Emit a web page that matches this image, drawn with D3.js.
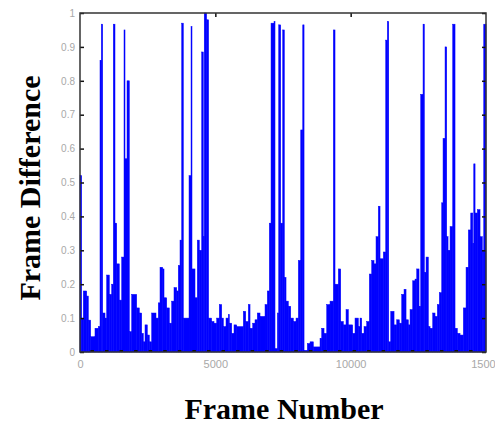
<!DOCTYPE html>
<html>
<head>
<meta charset="utf-8">
<script src="https://cdn.jsdelivr.net/npm/d3@7"></script>
<style>
  body { margin: 0; background: #fff; }
  svg { display: block; }
</style>
</head>
<body>
<script>
// step profile: frame where each step starts, and its height
const stepStart = [0, 63, 122, 248, 307, 395, 554, 676, 739, 788, 838, 924, 986, 1083, 1171, 1231, 1293, 1356, 1452, 1541,
  1626, 1663, 1737, 1822, 1910, 2095, 2191, 2280, 2339, 2402, 2487, 2561, 2649, 2808, 2893, 2956, 3056, 3104, 3204, 3300,
  3388, 3473, 3573, 3632, 3695, 3758, 3817, 4028, 4102, 4138, 4249, 4334, 4408, 4497, 4556, 4590, 4678, 4752, 4863, 4951,
  5051, 5147, 5236, 5296, 5395, 5480, 5517, 5606, 5690, 5791, 6034, 6123, 6219, 6282, 6382, 6466, 6551, 6651, 6836, 6921,
  6995, 7058, 7169, 7205, 7292, 7342, 7416, 7490, 7549, 7612, 7697, 7786, 7882, 7982, 8067, 8156, 8230, 8278, 8399, 8499,
  8621, 8868, 8931, 9016, 9116, 9238, 9360, 9422, 9544, 9633, 9729, 9829, 9914, 10076, 10161, 10283, 10346, 10409, 10494, 10594,
  10690, 10778, 10863, 10937, 11022, 11085, 11207, 11296, 11355, 11407, 11481, 11603, 11702, 11798, 11887, 11972, 12046, 12131, 12194, 12293,
  12378, 12441, 12526, 12589, 12674, 12722, 12785, 12870, 12933, 13032, 13117, 13202, 13276, 13365, 13413, 13487, 13549, 13598, 13672, 13771,
  13856, 13941, 14041, 14163, 14263, 14348, 14437, 14511, 14548, 14596, 14681, 14780, 14865, 14917];
const stepValue = [0.52, 0.10, 0.18, 0.165, 0.094, 0.045, 0.07, 0.075, 0.86, 0.967, 0.115, 0.10, 0.227, 0.17, 0.20, 0.967, 0.38, 0.26, 0.153, 0.28,
  0.95, 0.57, 0.80, 0.06, 0.17, 0.13, 0.115, 0.055, 0.03, 0.08, 0.05, 0.03, 0.115, 0.10, 0.145, 0.25, 0.245, 0.16, 0.13, 0.085,
  0.15, 0.19, 0.18, 0.255, 0.33, 0.97, 0.10, 0.52, 0.96, 0.245, 0.16, 0.33, 0.30, 0.885, 0.34, 1.0, 0.98, 0.10, 0.09, 0.085,
  0.10, 0.14, 0.10, 0.075, 0.10, 0.11, 0.085, 0.055, 0.08, 0.075, 0.12, 0.09, 0.14, 0.07, 0.085, 0.095, 0.115, 0.105, 0.14, 0.18,
  0.38, 0.97, 0.975, 0.01, 0.115, 0.965, 0.38, 0.95, 0.22, 0.15, 0.135, 0.10, 0.09, 0.10, 0.27, 0.655, 0.965, 0.005, 0.025, 0.03,
  0.015, 0.04, 0.07, 0.055, 0.14, 0.15, 0.95, 0.20, 0.245, 0.09, 0.08, 0.125, 0.08, 0.055, 0.10, 0.075, 0.10, 0.055, 0.075, 0.09,
  0.23, 0.27, 0.26, 0.34, 0.43, 0.275, 0.295, 0.92, 0.975, 0.03, 0.12, 0.08, 0.095, 0.085, 0.17, 0.185, 0.095, 0.08, 0.125, 0.21,
  0.215, 0.245, 0.135, 0.76, 0.967, 0.235, 0.28, 0.075, 0.07, 0.115, 0.105, 0.14, 0.175, 0.44, 0.63, 0.90, 0.34, 0.30, 0.37, 0.967,
  0.07, 0.055, 0.05, 0.13, 0.25, 0.36, 0.41, 0.32, 0.555, 0.41, 0.42, 0.34, 0.30, 0.967];
const lastFrame = 15000;

const xTicks = [0, 5000, 10000, 15000];
const yTicks = [0, 0.1, 0.2, 0.3, 0.4, 0.5, 0.6, 0.7, 0.8, 0.9, 1];
const yTickLabels = ["0", "0.1", "0.2", "0.3", "0.4", "0.5", "0.6", "0.7", "0.8", "0.9", "1"];

const w = 495, h = 426;
const padL = 80, padR = 486, padT = 13, padB = 352;

const x = d3.scaleLinear().domain([0, 15000]).range([padL, padR]);
const y = d3.scaleLinear().domain([0, 1]).range([padB, padT]);

const svg = d3.select("body").append("svg")
  .attr("width", w)
  .attr("height", h);

// bars (thin stroke of the same blue closes the seams between steps)
const ends = stepStart.slice(1).concat([lastFrame]);
svg.append("g")
  .selectAll("rect")
  .data(stepValue)
  .enter()
  .append("rect")
  .attr("x", (d, i) => x(stepStart[i]))
  .attr("width", (d, i) => x(ends[i]) - x(stepStart[i]))
  .attr("y", (d) => y(d))
  .attr("height", (d) => y(0) - y(d))
  .attr("fill", "#0000ff")
  .attr("stroke", "#0000ff")
  .attr("stroke-width", 0.5);

// axes
const yAxis = d3.axisLeft(y).tickValues(yTicks).tickSize(-4).tickPadding(5)
  .tickFormat((d, i) => yTickLabels[i]);
const gy = svg.append("g").attr("transform", "translate(" + padL + ",0)").call(yAxis);

const gyr = svg.append("g").attr("transform", "translate(" + padR + ",0)")
  .call(d3.axisRight(y).tickValues(yTicks).tickSize(-4).tickFormat(""));

const gxt = svg.append("g").attr("transform", "translate(0," + padT + ")")
  .call(d3.axisTop(x).tickValues([5000, 10000]).tickSize(-4).tickFormat(""));

const xAxis = d3.axisBottom(x).tickValues(xTicks).tickSize(0).tickPadding(8)
  .tickFormat(d3.format("d"));
const gx = svg.append("g").attr("transform", "translate(0," + padB + ")").call(xAxis);

const minorTicks = d3.range(27).map((k) => 432 + k * 538);
const gxm = svg.append("g").attr("transform", "translate(0," + padB + ")")
  .call(d3.axisBottom(x).tickValues(minorTicks).tickSize(-2).tickFormat(""));

[gy, gyr, gxt, gx, gxm].forEach((g) => g.select(".domain").remove());
svg.selectAll(".tick line").attr("stroke", "#111").attr("stroke-width", 1.5);
gxm.selectAll(".tick line").attr("stroke-width", 3.5);
svg.selectAll(".tick text")
  .attr("fill", "#a8a8a8")
  .style("font-family", "Arial, 'Liberation Sans', sans-serif");
gy.selectAll(".tick text").style("font-size", "10px");
gx.selectAll(".tick text").style("font-size", "11px");

// frame
svg.append("rect")
  .attr("x", padL)
  .attr("y", padT)
  .attr("width", padR - padL)
  .attr("height", padB - padT)
  .attr("fill", "none")
  .attr("stroke", "#333")
  .attr("stroke-width", 1.5);

// titles
svg.append("text")
  .attr("x", 284)
  .attr("y", 419)
  .attr("text-anchor", "middle")
  .style("font-family", "'Times New Roman', 'Liberation Serif', serif")
  .style("font-weight", "bold")
  .style("font-size", "30px")
  .text("Frame Number");

svg.append("text")
  .attr("transform", "translate(40,188) rotate(-90)")
  .attr("text-anchor", "middle")
  .style("font-family", "'Times New Roman', 'Liberation Serif', serif")
  .style("font-weight", "bold")
  .style("font-size", "30px")
  .text("Frame Difference");
</script>
</body>
</html>
